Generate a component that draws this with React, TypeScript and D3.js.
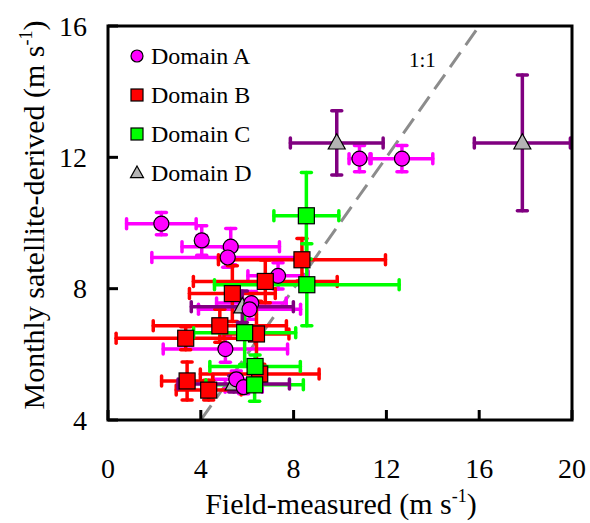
import React, { useEffect, useRef } from 'react';
import * as d3 from 'd3';

// Domain A (circles)
const aX = [2.3, 4.04, 5.29, 5.16, 7.33, 6.18, 6.1, 5.06, 5.53, 5.85, 10.84, 12.67];
const aY = [9.98, 9.47, 9.28, 8.95, 8.39, 7.56, 7.37, 6.16, 5.24, 5.0, 11.96, 11.96];
const aXErr = [1.5, 0.2, 2.1, 3.27, 1.3, 1.5, 2.2, 2.68, 1.0, 0.8, 0.45, 1.33];
const aYErr = [0.34, 0.45, 0.55, 0.3, 0.4, 0.35, 0.3, 0.4, 0.25, 0.2, 0.4, 0.4];

// Domain B (red squares)
const bX = [8.36, 6.78, 5.36, 4.82, 3.35, 6.4, 3.41, 4.34, 6.54];
const bY = [8.88, 8.22, 7.85, 6.87, 6.49, 6.62, 5.19, 4.91, 5.4];
const bXErr = [3.6, 3.1, 1.85, 2.87, 3.0, 1.4, 1.1, 1.4, 2.56];
const bYErr = [0.65, 0.65, 0.85, 0.5, 0.35, 1.0, 0.58, 0.3, 0.3];

// Domain C (green squares)
const cX = [8.55, 8.57, 5.89, 6.34, 6.32];
const cY = [10.22, 8.12, 6.66, 5.63, 5.07];
const cXErr = [1.4, 3.98, 2.2, 1.95, 2.1];
const cYErr = [1.32, 1.25, 0.97, 0.35, 0.5];

// Domain D (grey triangles, purple bars)
const dX = [9.86, 17.86, 5.79, 5.42];
const dY = [12.44, 12.44, 7.45, 5.1];
const dXErr = [2.0, 2.07, 2.2, 2.4];
const dYErr = [0.98, 2.07, 0.48, 0.25];

const xTicks = [0, 4, 8, 12, 16, 20];
const yTicks = [4, 8, 12, 16];

const FONT = '"Liberation Serif", "Times New Roman", serif';

const zip = (xs: number[], ys: number[], xe: number[], ye: number[]) =>
  xs.map((x, i) => ({ x, y: ys[i], xe: xe[i], ye: ye[i] }));

const series = [
  { name: 'Domain A', shape: 'circle', fill: '#ff00ff', bar: '#ff00ff', data: zip(aX, aY, aXErr, aYErr) },
  { name: 'Domain B', shape: 'square', fill: '#ff0000', bar: '#ff0000', data: zip(bX, bY, bXErr, bYErr) },
  { name: 'Domain C', shape: 'square', fill: '#00ff00', bar: '#00ff00', data: zip(cX, cY, cXErr, cYErr) },
  { name: 'Domain D', shape: 'triangle', fill: '#b4b4b4', bar: '#800080', data: zip(dX, dY, dXErr, dYErr) },
];

const App = () => {
  const svgRef = useRef<SVGSVGElement>(null);

  useEffect(() => {
    const width = 590;
    const height = 523;
    const left = 108, right = 572, top = 26, bottom = 420;

    const svg = d3.select(svgRef.current);
    svg.selectAll('*').remove();
    svg.attr('width', width).attr('height', height);

    const x = d3.scaleLinear().domain([0, 20]).range([left, right]);
    const y = d3.scaleLinear().domain([4, 16]).range([bottom, top]);

    svg.append('defs').append('clipPath').attr('id', 'plot')
      .append('rect').attr('x', left).attr('y', top)
      .attr('width', right - left).attr('height', bottom - top);

    const plot = svg.append('g').attr('clip-path', 'url(#plot)');

    // 1:1 line
    plot.append('line')
      .attr('x1', x(4)).attr('y1', y(4))
      .attr('x2', x(16)).attr('y2', y(16))
      .attr('stroke', '#8c8c8c')
      .attr('stroke-width', 3)
      .attr('stroke-dasharray', '18,9');

    // error bars
    const cap = 5;
    series.forEach(s => {
      const g = plot.append('g')
        .attr('stroke', s.bar)
        .attr('stroke-width', 3.5)
        .attr('stroke-linecap', 'round');
      s.data.forEach(d => {
        const cx = x(d.x), cy = y(d.y);
        const x0 = x(d.x - d.xe), x1 = x(d.x + d.xe);
        const y0 = y(d.y - d.ye), y1 = y(d.y + d.ye);
        g.append('line').attr('x1', x0).attr('x2', x1).attr('y1', cy).attr('y2', cy);
        g.append('line').attr('x1', x0).attr('x2', x0).attr('y1', cy - cap).attr('y2', cy + cap);
        g.append('line').attr('x1', x1).attr('x2', x1).attr('y1', cy - cap).attr('y2', cy + cap);
        g.append('line').attr('x1', cx).attr('x2', cx).attr('y1', y0).attr('y2', y1);
        g.append('line').attr('x1', cx - cap).attr('x2', cx + cap).attr('y1', y0).attr('y2', y0);
        g.append('line').attr('x1', cx - cap).attr('x2', cx + cap).attr('y1', y1).attr('y2', y1);
      });
    });

    const drawMarker = (g: any, shape: string, fill: string, cx: number, cy: number, size: number) => {
      if (shape === 'circle') {
        g.append('circle').attr('cx', cx).attr('cy', cy).attr('r', size / 2)
          .attr('fill', fill).attr('stroke', '#000').attr('stroke-width', 1.2);
      } else if (shape === 'square') {
        g.append('rect').attr('x', cx - size / 2).attr('y', cy - size / 2)
          .attr('width', size).attr('height', size)
          .attr('fill', fill).attr('stroke', '#000').attr('stroke-width', 1.2);
      } else {
        const h = size * 0.9;
        g.append('path')
          .attr('d', `M${cx},${cy - h * 0.6}L${cx + size / 2},${cy + h * 0.4}L${cx - size / 2},${cy + h * 0.4}Z`)
          .attr('fill', fill).attr('stroke', '#000').attr('stroke-width', 1.2);
      }
    };

    // markers (triangles first, then circles, red, green)
    const order = [3, 0, 1, 2];
    order.forEach(i => {
      const s = series[i];
      const g = plot.append('g');
      const size = s.shape === 'circle' ? 15 : s.shape === 'square' ? 16 : 17;
      s.data.forEach(d => drawMarker(g, s.shape, s.fill, x(d.x), y(d.y), size));
    });

    // frame
    svg.append('rect')
      .attr('x', left).attr('y', top)
      .attr('width', right - left).attr('height', bottom - top)
      .attr('fill', 'none').attr('stroke', '#000').attr('stroke-width', 3);

    // ticks (inward)
    const tickLen = 10;
    yTicks.forEach(t => {
      svg.append('line').attr('x1', left).attr('x2', left + tickLen)
        .attr('y1', y(t)).attr('y2', y(t))
        .attr('stroke', '#000').attr('stroke-width', 3);
      svg.append('text').attr('x', left - 21).attr('y', y(t)).attr('dy', '0.35em')
        .attr('text-anchor', 'end').attr('font-family', FONT).attr('font-size', 28)
        .text(t);
    });
    xTicks.forEach(t => {
      svg.append('line').attr('x1', x(t)).attr('x2', x(t))
        .attr('y1', bottom).attr('y2', bottom - tickLen)
        .attr('stroke', '#000').attr('stroke-width', 3);
      svg.append('text').attr('x', x(t)).attr('y', 478)
        .attr('text-anchor', 'middle').attr('font-family', FONT).attr('font-size', 28)
        .text(t);
    });

    // axis titles
    const xt = svg.append('text').attr('x', 341).attr('y', 514)
      .attr('text-anchor', 'middle').attr('font-family', FONT).attr('font-size', 30);
    xt.append('tspan').text('Field-measured (m s');
    xt.append('tspan').attr('font-size', 18).attr('dy', -12).text('-1');
    xt.append('tspan').attr('dy', 12).text(')');

    const yt = svg.append('text')
      .attr('transform', `translate(44, 215) rotate(-90)`)
      .attr('text-anchor', 'middle').attr('font-family', FONT).attr('font-size', 30);
    yt.append('tspan').text('Monthly satellite-derived (m s');
    yt.append('tspan').attr('font-size', 18).attr('dy', -12).text('-1');
    yt.append('tspan').attr('dy', 12).text(')');

    // 1:1 label
    svg.append('text').attr('x', 409).attr('y', 67)
      .attr('font-family', FONT).attr('font-size', 21).text('1:1');

    // legend
    const leg = svg.append('g');
    series.forEach((s, i) => {
      const ly = 56 + i * 39;
      const size = s.shape === 'circle' ? 12 : s.shape === 'square' ? 12 : 13;
      drawMarker(leg, s.shape, s.fill, 137, ly, size);
      leg.append('text').attr('x', 151).attr('y', ly).attr('dy', '0.35em')
        .attr('font-family', FONT).attr('font-size', 24).text(s.name);
    });
  }, []);

  return <svg ref={svgRef} style={{ position: 'absolute', left: 0, top: 0, display: 'block' }}></svg>;
};

export default App;
